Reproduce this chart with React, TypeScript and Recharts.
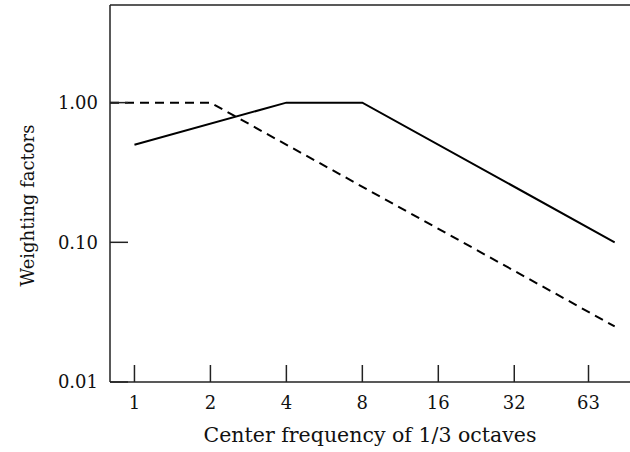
import { LineChart, Line, XAxis, YAxis, ReferenceLine } from 'recharts'

// 1/3-octave band centre frequencies (Hz) and weighting factors
const solidFreq = [1, 4, 8, 80]
const solidWeight = [0.5, 1, 1, 0.1]
const dashedFreq = [0.8, 2, 80]
const dashedWeight = [1, 1, 0.025]

const xTicks = [1, 2, 4, 8, 16, 32, 63]
const yTicks = [0.01, 0.1, 1]

const solidData = solidFreq.map((f, i) => ({ f, w: solidWeight[i] }))
const dashedData = dashedFreq.map((f, i) => ({ f, w: dashedWeight[i] }))

const FONT = '"DejaVu Serif", serif'

const YTitle = ({ viewBox }: any) => {
  const cx = 27
  const cy = viewBox.y + viewBox.height / 2 + 12
  return (
    <text
      x={cx}
      y={cy}
      transform={`rotate(-90, ${cx}, ${cy})`}
      textAnchor="middle"
      dominantBaseline="central"
      fontFamily={FONT}
      fontSize={18}
      fill="#111"
    >
      Weighting factors
    </text>
  )
}

// y tick: label left of the axis, short tick mark pointing into the plot
const YTick = ({ x, y, payload }: any) => {
  const axisX = x + 12
  return (
    <g>
      <line x1={axisX} x2={axisX + 18} y1={y} y2={y} stroke="#222" strokeWidth={1.5} />
      <text
        x={x}
        y={y}
        dy="0.36em"
        textAnchor="end"
        fontFamily={FONT}
        fontSize={18}
        fill="#111"
      >
        {Number(payload.value).toFixed(2)}
      </text>
    </g>
  )
}

export default function App() {
  return (
    <div style={{ position: 'absolute', left: 0, top: 0, background: '#fff' }}>
      <LineChart width={630} height={452} margin={{ top: 5, right: 0, bottom: 0, left: 0 }}>
        <XAxis
          type="number"
          dataKey="f"
          scale="log"
          domain={[0.8, 92]}
          ticks={xTicks}
          allowDataOverflow
          height={70}
          tickSize={-17}
          tickMargin={31}
          stroke="#222"
          strokeWidth={1.5}
          tick={{ fill: '#111', fontFamily: FONT, fontSize: 18 }}
          label={{
            value: 'Center frequency of 1/3 octaves',
            position: 'insideBottom',
            offset: 10,
            fill: '#111',
            fontFamily: FONT,
            fontSize: 20.5,
          }}
        />
        <YAxis
          type="number"
          dataKey="w"
          scale="log"
          domain={[0.01, 5]}
          ticks={yTicks}
          allowDataOverflow
          width={110}
          tickLine={false}
          tickSize={0}
          tickMargin={12}
          stroke="#222"
          strokeWidth={1.5}
          tick={<YTick />}
          label={<YTitle />}
        />
        <ReferenceLine y={5} stroke="#222" strokeWidth={1.5} ifOverflow="visible" />
        <Line
          data={solidData}
          dataKey="w"
          stroke="#000"
          strokeWidth={2}
          dot={false}
          isAnimationActive={false}
        />
        <Line
          data={dashedData}
          dataKey="w"
          stroke="#000"
          strokeWidth={2}
          strokeDasharray="9 6"
          dot={false}
          isAnimationActive={false}
        />
      </LineChart>
    </div>
  )
}
